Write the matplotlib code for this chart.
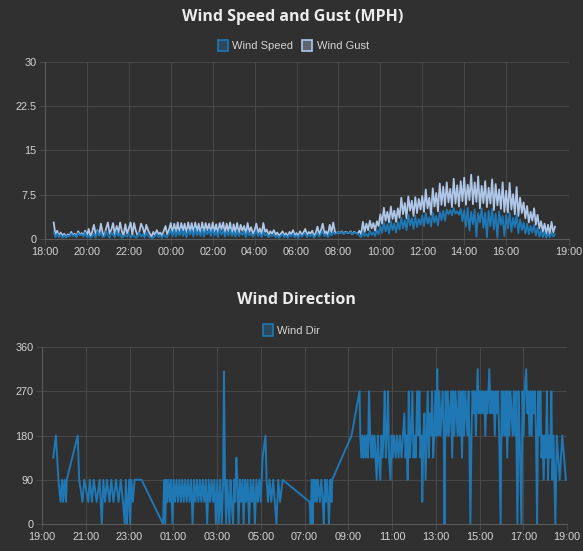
import matplotlib
matplotlib.use("Agg")
import matplotlib.pyplot as plt
from matplotlib.patches import Patch
import numpy as np
import pandas as pd

# wind speed / gust log (mph), one reading every 5 minutes from 18:25
speed_gust_start = "2024-05-01 18:25"
speed_gust_step = "5min"

wind_gust = [
    2.8, 0.6, 1.4, 0.4, 1.1, 0.5, 0.9,
    0.3, 0.8, 0.5, 1.2, 0.6, 0.9, 0.4, 1.3, 0.7, 1.0, 0.5, 1.4,
    0.6, 1.7, 0.4, 1.2, 2.4, 0.8, 1.5, 0.6, 2.6, 1.0, 0.5, 1.8,
    2.8, 0.9, 1.6, 2.7, 0.5, 2.2, 1.0, 2.8, 1.3, 0.6, 2.5, 0.9,
    1.8, 2.8, 0.7, 2.7, 1.4, 0.6, 1.2, 2.6, 1.9, 0.8, 2.4, 1.5,
    0.9, 0.4, 1.2, 0.6, 1.5, 0.8, 1.1, 0.5, 1.4, 2.2, 0.7, 1.6,
    2.7, 0.9, 2.6, 1.2, 2.8, 0.8, 2.7, 1.4, 2.6, 0.9, 2.8, 1.2,
    2.7, 1.0, 2.8, 1.3, 2.6, 0.8, 2.8, 1.1, 2.7, 1.5, 2.6, 0.9,
    2.8, 1.2, 2.5, 0.8, 2.7, 1.6, 2.8, 1.0, 2.6, 1.3, 2.8, 0.7,
    2.5, 1.1, 2.7, 0.9, 2.4, 1.4, 2.2, 0.8, 2.7, 1.2, 2.0, 0.9,
    1.5, 2.6, 1.0, 1.8, 0.7, 2.7, 1.2, 1.6, 0.6, 1.3, 0.9, 1.5,
    0.7, 1.1, 0.5, 0.9, 1.3, 0.6, 1.0, 0.4, 1.2, 0.8, 1.5, 0.6,
    1.0, 0.5, 1.3, 0.7, 1.1, 1.7, 0.6, 1.2, 0.9, 1.4, 0.5, 1.0,
    2.1, 0.8, 1.5, 2.6, 0.9, 1.3, 0.6, 2.4, 1.1, 2.8, 1.2, 1.0,
    1.2, 1.0, 1.3, 0.9, 1.2, 1.1, 1.0, 1.3, 0.8, 1.2, 1.0, 0.9,
    1.4, 0.8, 2.9, 1.2, 2.6, 1.5, 3.1, 1.8, 2.7, 1.4, 3.0, 2.2,
    4.2, 2.6, 5.3, 3.1, 4.6, 2.8, 5.5, 3.4, 4.8, 2.9, 5.2, 3.6,
    7.0, 4.2, 6.1, 3.5, 7.2, 4.8, 6.5, 3.9, 7.1, 4.4, 6.8, 5.0,
    7.3, 4.6, 8.4, 5.2, 7.0, 4.1, 8.6, 5.5, 7.8, 4.7, 9.4, 5.8,
    8.9, 5.6, 9.6, 6.2, 8.5, 5.4, 10.2, 6.0, 9.1, 5.5, 9.8, 6.4,
    10.4, 5.8, 9.2, 6.6, 10.9, 5.9, 9.6, 6.3, 10.6, 5.2, 9.0, 6.1,
    9.8, 5.4, 8.7, 6.0, 10.1, 4.9, 9.3, 5.7, 8.4, 5.1, 9.6, 4.6,
    8.2, 4.5, 9.5, 5.0, 7.6, 4.2, 8.8, 3.9, 7.0, 4.4, 6.2, 3.5,
    5.6, 2.8, 4.6, 3.1, 5.2, 2.4, 4.1, 1.8, 3.0, 1.2, 2.6, 0.9,
    2.4, 0.8, 2.9, 1.1, 2.1,
]

wind_speed = [
    1.2, 0.3, 0.9, 0.4, 0.7, 0.2, 0.6,
    0.3, 0.6, 0.4, 0.9, 0.5, 0.7, 0.3, 1.0, 0.6, 0.8, 0.4, 1.1,
    0.3, 0.6, 0.2, 0.5, 0.9, 0.2, 1.4, 0.6, 1.0, 0.3, 0.4, 1.3,
    0.6, 0.2, 1.1, 0.7, 0.3, 1.4, 0.5, 0.9, 0.2, 0.5, 0.6, 0.4,
    1.0, 0.3, 0.5, 0.6, 0.2, 0.4, 1.1, 0.4, 0.8, 0.2, 1.1, 0.5,
    0.3, 0.2, 0.2, 0.5, 0.9, 0.3, 0.6, 0.2, 0.8, 0.4, 0.3, 0.9,
    1.4, 0.5, 1.6, 0.4, 1.5, 0.6, 1.7, 0.5, 1.4, 0.3, 1.6, 0.7,
    1.5, 0.4, 1.8, 0.6, 1.3, 0.5, 1.7, 0.4, 1.5, 0.8, 1.6, 0.5,
    1.6, 0.6, 1.4, 0.3, 1.7, 0.7, 1.5, 0.4, 1.3, 0.6, 1.6, 0.5,
    1.2, 0.4, 1.5, 0.5, 1.1, 0.7, 1.3, 0.3, 1.4, 0.6, 1.0, 0.4,
    0.8, 1.3, 0.5, 1.0, 0.3, 1.2, 0.6, 0.9, 0.3, 0.7, 0.5, 0.8,
    0.3, 0.6, 0.2, 0.5, 0.8, 0.3, 0.6, 0.2, 0.7, 0.4, 0.9, 0.3,
    0.6, 0.2, 0.8, 0.4, 0.7, 1.0, 0.3, 0.7, 0.5, 0.8, 0.2, 0.6,
    1.0, 0.4, 0.8, 1.3, 0.5, 0.7, 0.3, 1.1, 0.6, 1.2, 0.8, 1.0,
    1.2, 1.0, 1.2, 0.9, 1.1, 1.1, 1.0, 1.2, 0.8, 1.1, 1.0, 0.9,
    0.6, 0.3, 1.2, 0.5, 0.9, 0.4, 1.4, 0.7, 1.1, 0.5, 1.5, 0.8,
    2.2, 1.0, 2.8, 1.3, 2.5, 0.9, 3.0, 1.5, 2.6, 1.1, 2.9, 1.6,
    3.6, 1.8, 3.2, 1.5, 4.1, 2.3, 3.5, 1.7, 3.9, 2.0, 3.4, 2.4,
    4.0, 2.2, 4.4, 2.6, 3.7, 2.1, 4.5, 2.8, 3.9, 2.3, 4.6, 3.2,
    4.8, 3.1, 5.0, 4.2, 4.9, 4.0, 5.2, 4.3, 4.7, 4.1, 5.1, 3.0,
    4.9, 2.1, 5.3, 1.4, 4.6, 2.5, 5.0, 0.4, 4.4, 2.8, 5.2, 1.9,
    4.5, 0.3, 4.8, 2.2, 5.1, 1.6, 4.3, 0.2, 4.7, 2.4, 3.9, 0.5,
    4.1, 1.8, 4.5, 1.2, 3.6, 2.0, 4.2, 1.0, 3.3, 1.5, 2.8, 0.9,
    2.6, 0.8, 2.2, 1.1, 2.4, 0.6, 1.9, 0.4, 1.5, 0.3, 1.2, 0.2,
    0.9, 0.3, 1.1, 0.4, 0.8,
]

# wind direction readings: minutes after 19:00, degrees
dir_start = "2024-05-01 19:00"
dir_minutes = [
    31, 38, 45, 51, 55, 58, 62, 66, 68, 98, 102, 111, 116,
    127, 131, 137, 142, 150, 158, 164, 168, 173, 178, 185, 190, 196, 203, 210,
    216, 222, 227, 230, 233, 236, 239, 242, 245, 249, 254, 273, 332,
    335, 338, 341, 344, 347, 351, 354, 358, 361, 365, 369, 373, 377, 381, 385,
    389, 393, 397, 401, 405, 409, 413, 417, 421, 425, 429, 433, 437, 441, 445,
    449, 453, 457, 461, 465, 469, 473, 477, 481, 485, 489, 493, 497, 499, 502,
    505, 508, 511, 514, 517, 520, 524, 527, 530, 533, 536, 539, 543, 546, 550,
    553, 557, 560, 564, 568, 572, 576, 580, 584, 588, 592, 596, 600, 605, 613,
    616, 620, 624, 629, 634, 643, 648, 653, 660, 734,
    737, 740, 742, 745, 748, 751, 754, 757, 762, 766, 770, 773, 776, 779, 782,
    785, 787, 791, 794, 796, 849, 871,
    873, 876, 879, 882, 885, 888, 891, 894, 897, 900, 903, 906, 909, 912, 915,
    918, 921, 924, 928, 931, 934, 937,
    940, 943, 946, 949, 952, 956, 959,
    962, 966, 970, 974, 978, 982, 986, 990, 994, 997, 1000,
    1003, 1006, 1009, 1012, 1016, 1019, 1022, 1025, 1029, 1032, 1035, 1038,
    1041, 1043, 1046,
    1049, 1052, 1055, 1058, 1061, 1064, 1067, 1070, 1073, 1076, 1079, 1082, 1084,
    1087, 1090, 1093, 1096, 1099, 1102, 1104, 1107, 1110, 1113, 1116, 1119,
    1122, 1125, 1128, 1131, 1134, 1137, 1140, 1143, 1146, 1149, 1152, 1155,
    1158, 1161, 1164, 1167, 1170, 1172, 1175, 1178, 1181,
    1184, 1187, 1190, 1195, 1198, 1201, 1204, 1207, 1210, 1213, 1216, 1219,
    1222, 1227, 1230, 1233, 1236, 1239, 1242, 1245, 1248, 1251, 1254, 1258, 1261,
    1264, 1267, 1270, 1273, 1276, 1279, 1282, 1285, 1288, 1291, 1294, 1297,
    1300, 1304, 1307, 1310, 1315, 1318, 1321, 1324, 1328, 1331, 1334, 1337,
    1340, 1343, 1346, 1349, 1352, 1355, 1358, 1361, 1364, 1367, 1370,
    1373, 1376, 1379, 1382, 1385, 1388, 1391, 1394, 1397, 1400, 1403, 1408,
    1412, 1416, 1420, 1427, 1437,
]
wind_dir = [
    135, 180, 90, 45, 90, 45, 90, 45, 90, 180, 90, 45, 90,
    45, 90, 45, 90, 45, 90, 0, 90, 45, 90, 45, 90, 45, 90, 45,
    90, 45, 0, 90, 0, 45, 90, 0, 90, 45, 90, 90, 0,
    90, 0, 90, 45, 90, 45, 90, 0, 90, 45, 90, 45, 90, 45, 90,
    45, 90, 45, 90, 45, 90, 0, 90, 45, 90, 45, 90, 45, 90, 45,
    90, 0, 90, 45, 90, 45, 90, 0, 90, 0, 90, 0, 90, 310, 90,
    0, 90, 45, 0, 90, 45, 0, 90, 45, 135, 90, 0, 90, 45, 90,
    0, 90, 45, 90, 0, 90, 45, 90, 0, 90, 45, 90, 45, 135, 180,
    90, 45, 90, 45, 90, 0, 90, 45, 90, 45,
    0, 90, 0, 90, 45, 90, 45, 90, 45, 90, 45, 0, 90, 45, 90,
    45, 0, 90, 45, 90, 180, 270,
    180, 135, 180, 135, 180, 135, 180, 135, 270, 180, 135, 180, 135, 180, 135,
    90, 180, 135, 90, 180, 135, 180,
    270, 135, 180, 270, 135, 90, 180,
    135, 180, 135, 180, 135, 180, 135, 180, 225, 135, 180,
    90, 270, 135, 180, 270, 135, 180, 135, 270, 180, 270, 135,
    180, 45, 180,
    225, 90, 180, 270, 135, 225, 180, 270, 135, 180, 270, 180, 315,
    180, 270, 180, 225, 270, 180, 0, 270, 180, 270, 180, 225,
    270, 135, 270, 180, 270, 225, 180, 270, 180, 270, 135, 270,
    180, 270, 225, 180, 270, 180, 0, 180, 270,
    225, 270, 180, 315, 225, 270, 225, 270, 225, 270, 180, 270,
    225, 315, 225, 270, 225, 270, 180, 270, 225, 270, 180, 0, 270,
    180, 270, 180, 270, 135, 270, 180, 270, 225, 180, 270, 180,
    270, 0, 270, 180, 0, 270, 180, 270, 315, 225, 270, 180,
    270, 180, 270, 225, 270, 180, 0, 270, 180, 270, 135,
    180, 90, 180, 135, 270, 90, 180, 135, 270, 90, 180, 0,
    180, 135, 90, 180, 90,
]

speed_ticks = [0, 7.5, 15, 22.5, 30]
dir_ticks = [0, 90, 180, 270, 360]

BG = "#303030"
GRID = "#474747"
TXT = "#d4d4d4"
C_SPEED = "#1f77b4"
C_GUST = "#aec7e8"
FONT = "Liberation Sans"

sg_time = pd.date_range(speed_gust_start, periods=len(wind_gust), freq=speed_gust_step)
dir_time = pd.Timestamp(dir_start) + pd.to_timedelta(dir_minutes, unit="min")

fig = plt.figure(figsize=(5.83, 5.51), dpi=100, facecolor=BG)
ax1 = fig.add_axes([45 / 583, 1 - 239 / 551, 524 / 583, 177 / 551])
ax2 = fig.add_axes([42 / 583, 1 - 524 / 551, 525 / 583, 177 / 551])


def style_axis(ax, t0, t1, yticks):
    ax.set_facecolor(BG)
    ax.set_xlim(t0, t1)
    ax.set_ylim(yticks[0], yticks[-1])
    xt = list(pd.date_range(t0, t1 - pd.Timedelta("2h"), freq="2h")) + [t1]
    ax.set_xticks(xt)
    ax.set_xticklabels([t.strftime("%H:%M") for t in xt])
    ax.set_yticks(yticks)
    ax.set_yticklabels([f"{v:g}" for v in yticks])
    ax.grid(True, color=GRID, linewidth=0.8)
    ax.set_axisbelow(True)
    for s in ["top", "right"]:
        ax.spines[s].set_visible(False)
    for s in ["left", "bottom"]:
        ax.spines[s].set_color("#5a5a5a")
        ax.spines[s].set_linewidth(0.8)
    ax.tick_params(colors=GRID, length=4, width=0.8, pad=2)
    for lab in ax.get_xticklabels() + ax.get_yticklabels():
        lab.set_color(TXT)
        lab.set_fontsize(7.8)
        lab.set_family(FONT)


top_start = pd.Timestamp("2024-05-01 18:00")
style_axis(ax1, top_start, top_start + pd.Timedelta("25h"), speed_ticks)
ax1.plot(sg_time, wind_gust, color=C_GUST, lw=1.3, zorder=2)
ax1.plot(sg_time, wind_speed, color=C_SPEED, lw=1.3, zorder=3)

bot_start = pd.Timestamp("2024-05-01 19:00")
style_axis(ax2, bot_start, bot_start + pd.Timedelta("24h"), dir_ticks)
ax2.plot(dir_time, wind_dir, color=C_SPEED, lw=1.4, zorder=3)

fig.text(0.502, 0.969, "Wind Speed and Gust (MPH)", ha="center", va="center",
         color="#ececec", fontsize=11.5, fontweight="bold", family="Open Sans")
fig.text(0.508, 0.455, "Wind Direction", ha="center", va="center",
         color="#ececec", fontsize=11.5, fontweight="bold", family="Open Sans")

h_top = [Patch(facecolor=(0.12, 0.47, 0.71, 0.35), edgecolor=C_SPEED, lw=1.2, label="Wind Speed"),
         Patch(facecolor=(0.68, 0.78, 0.91, 0.35), edgecolor=C_GUST, lw=1.2, label="Wind Gust")]
fig.legend(handles=h_top, loc="center", bbox_to_anchor=(0.503, 0.917), ncol=2, frameon=False,
           handlelength=0.9, handleheight=1.2, handletextpad=0.4, columnspacing=0.8,
           prop={"family": FONT, "size": 8}, labelcolor=TXT)
h_bot = [Patch(facecolor=(0.12, 0.47, 0.71, 0.35), edgecolor=C_SPEED, lw=1.2, label="Wind Dir")]
fig.legend(handles=h_bot, loc="center", bbox_to_anchor=(0.5, 0.401), ncol=1, frameon=False,
           handlelength=0.9, handleheight=1.2, handletextpad=0.4,
           prop={"family": FONT, "size": 8}, labelcolor=TXT)

fig.savefig("out.png", dpi=100, facecolor=BG)
